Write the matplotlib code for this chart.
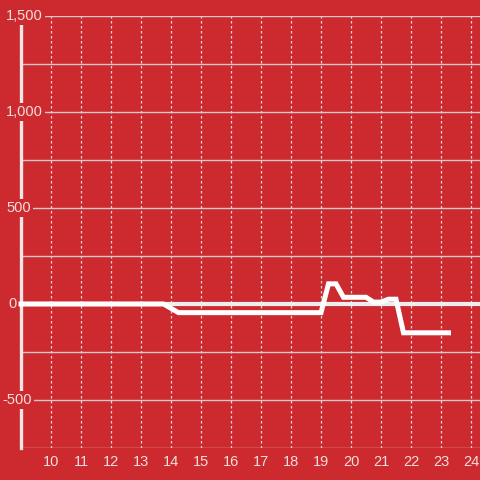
import matplotlib.pyplot as plt
from matplotlib.transforms import blended_transform_factory

# data (hour of day, value)
hours = [9, 13.75, 14.25, 19.0, 19.25, 19.5, 19.75, 20.5, 20.75, 21.0, 21.25, 21.5, 21.75, 23.25]
values = [0, 0, -45, -45, 105, 105, 35, 35, 10, 10, 25, 25, -150, -150]

x_ticks = list(range(10, 25))
y_major = [1500, 1000, 500, 0, -500]
y_major_labels = ['1,500', '1,000', '500', '0', '-500']
y_minor = [1250, 750, 250, -250, -750]

bg = '#cc2a2e'
txt = '#f3dede'

plt.rcParams['font.family'] = ['Liberation Sans', 'DejaVu Sans']

fig = plt.figure(figsize=(4.8, 4.8), dpi=100, facecolor=bg)
ax = fig.add_axes([21 / 480, 32 / 480, 459 / 480, 432 / 480])
ax.set_facecolor(bg)
ax.set_xlim(9, 24.3)
ax.set_ylim(-750, 1500)
for s in ax.spines.values():
    s.set_visible(False)
ax.set_xticks([])
ax.set_yticks([])

# vertical dotted grid
for h in x_ticks:
    ax.axvline(h, color='#e6d6d6', lw=0.9, ls=(0, (2, 2)), zorder=1)
    ax.annotate(str(h), (h, -750), xytext=(0, -10), textcoords='offset points',
                ha='center', va='center', fontsize=10.5, color=txt)

# horizontal grid
for v in y_minor + y_major:
    if v == 0:
        continue
    ax.axhline(v, color='#d9c8c8', lw=1, zorder=1)

trans = blended_transform_factory(fig.transFigure, ax.transData)

# zero line
ax.axhline(0, color='#eeeeee', lw=3, zorder=2)

# left spine
ax.plot([0, 0], [0, 1], transform=ax.transAxes, color='#f0e6e6', lw=2.4,
        clip_on=False, zorder=3)

# series
ax.plot(hours, values, color='white', lw=3.6, solid_joinstyle='miter', zorder=4,
        clip_on=False)

# y labels with background covering lines
for v, lab in zip(y_major, y_major_labels):
    x0 = 6 / 480
    if v < 0:
        x0 = 2 / 480
    if v == 0:
        x0 = 8 / 480
    ax.text(x0, v, lab, transform=trans, ha='left', va='center',
            fontsize=10.5, color=txt, zorder=10, clip_on=False,
            bbox=dict(boxstyle='square,pad=0.15', fc=bg, ec='none'))

fig.savefig('out.png', dpi=100, facecolor=bg)
